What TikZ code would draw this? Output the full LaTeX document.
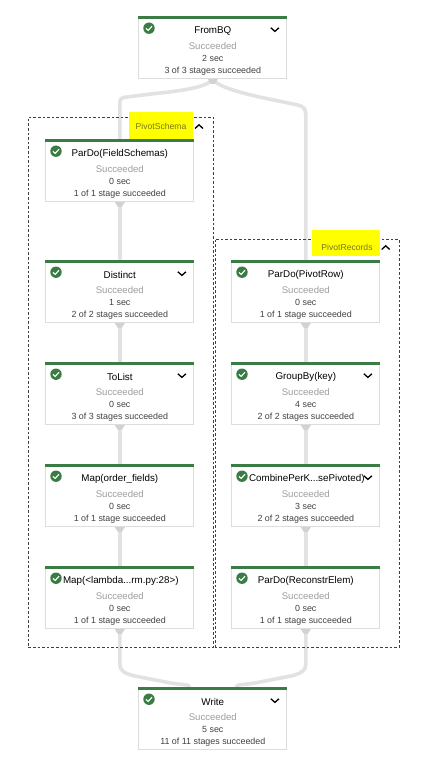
\documentclass[tikz,border=0pt]{standalone}
\usepackage{fontspec}
\setmainfont{Liberation Sans}
\usetikzlibrary{backgrounds,calc}
\definecolor{okgreen}{HTML}{3A7D44}
\definecolor{edgegray}{HTML}{E2E2E2}
\definecolor{portgray}{HTML}{D2D2D2}
\definecolor{boxline}{HTML}{DDDDDD}
\definecolor{mutetext}{HTML}{9E9E9E}
\definecolor{bodytext}{HTML}{424242}
\definecolor{grouptext}{HTML}{77771F}
\definecolor{marker}{HTML}{FFFF00}
\tikzset{
  x=1pt,y=-1pt,
  jobbox/.style={draw=boxline,line width=0.8pt,fill=white,minimum width=148pt,minimum height=62pt,inner sep=0pt,anchor=north west},
  topbar/.style={fill=okgreen,minimum width=148.8pt,minimum height=3.6pt,inner sep=0pt,anchor=north west},
  okdot/.style={circle,fill=okgreen,minimum size=11.4pt,inner sep=0pt},
  titletext/.style={font=\fontsize{9.8}{10}\selectfont,text=black,inner sep=0pt},
  mutedtext/.style={font=\fontsize{9.6}{10}\selectfont,text=mutetext,inner sep=0pt},
  infotext/.style={font=\fontsize{8.9}{10}\selectfont,text=bodytext,inner sep=0pt},
  grouplabel/.style={font=\fontsize{8.6}{10}\selectfont,text=grouptext,inner sep=0pt},
  flow/.style={draw=edgegray,line width=3.6pt},
  groupframe/.style={draw=black!75,line width=0.6pt,dash pattern=on 2.6pt off 2pt},
  chev/.style={draw=black,line width=1.3pt},
  tick/.style={draw=white,line width=1.1pt},
  highlight/.style={fill=marker,inner sep=0pt,anchor=north west}
}
% name, x, y, title, time, stages, title shift
\newcommand{\jobnode}[7]{%
  \node[jobbox] (#1) at (#2,#3) {};
  \node[topbar] (#1bar) at ($(#1.north west)+(-0.4,-0.4)$) {};
  \node[okdot] (#1ok) at ($(#1.north west)+(10.6,12.2)$) {};
  \draw[tick] ($(#1ok)+(-3,0.2)$) -- ($(#1ok)+(-0.8,2.2)$) -- ($(#1ok)+(3,-2)$);
  \node[titletext] (#1title) at ($(#1.north)+(#7,14.8)$) {#4};
  \node[mutedtext] (#1state) at ($(#1.north)+(0,29.8)$) {Succeeded};
  \node[infotext] (#1time) at ($(#1.north)+(0,42.8)$) {#5};
  \node[infotext] (#1stages) at ($(#1.north)+(0,54.8)$) {#6};
}
\newcommand{\chevdown}[1]{\draw[chev] ($(#1.north west)+(132.5,11.8)$) -- ($(#1.north west)+(136.5,15.4)$) -- ($(#1.north west)+(140.5,11.8)$);}
\newcommand{\portmark}[1]{\fill[portgray] ($(#1.south)+(-5,0.4)$) -- ($(#1.south)+(5,0.4)$) -- ($(#1.south)+(2,5)$) -- ($(#1.south)+(-2,5)$) -- cycle;}
\begin{document}
\begin{tikzpicture}
\useasboundingbox (0,0) rectangle (424,770);
\node[groupframe,minimum width=185pt,minimum height=530pt,inner sep=0pt,anchor=north west] (schemagroup) at (28,117) {};
\node[groupframe,minimum width=184pt,minimum height=408.5pt,inner sep=0pt,anchor=north west] (recordsgroup) at (214.5,238.5) {};
\node[highlight,minimum width=64pt,minimum height=28pt] (schemamark) at (129,112) {};
\node[highlight,minimum width=68pt,minimum height=26pt] (recordsmark) at (312,230) {};
\node[grouplabel] (schemalabel) at (161,126.7) {PivotSchema};
\node[grouplabel] (recordslabel) at (347,247.7) {PivotRecords};
\draw[chev] (195,128.5) -- (199,124.8) -- (203,128.5);
\draw[chev] (381.7,249.5) -- (385.7,245.8) -- (389.7,249.5);

\jobnode{frombq}{138.4}{16}{FromBQ}{2 sec}{3 of 3 stages succeeded}{0}
\jobnode{fieldschemas}{45.4}{139}{ParDo(FieldSchemas)}{0 sec}{1 of 1 stage succeeded}{0}
\jobnode{distinct}{45.4}{260}{Distinct}{1 sec}{2 of 2 stages succeeded}{0}
\jobnode{tolist}{45.4}{362}{ToList}{0 sec}{3 of 3 stages succeeded}{0}
\jobnode{orderfields}{45.4}{464}{Map(order\_fields)}{0 sec}{1 of 1 stage succeeded}{0}
\jobnode{lambda}{45.4}{566}{Map(<lambda...rm.py:28>)}{0 sec}{1 of 1 stage succeeded}{1}
\jobnode{pivotrow}{231.4}{260}{ParDo(PivotRow)}{0 sec}{1 of 1 stage succeeded}{0}
\jobnode{groupby}{231.4}{362}{GroupBy(key)}{4 sec}{2 of 2 stages succeeded}{0}
\jobnode{combine}{231.4}{464}{CombinePerK...sePivoted)}{3 sec}{2 of 2 stages succeeded}{1}
\jobnode{reconstr}{231.4}{566}{ParDo(ReconstrElem)}{0 sec}{1 of 1 stage succeeded}{0}
\jobnode{write}{138.4}{687}{Write}{5 sec}{11 of 11 stages succeeded}{0}
\chevdown{frombq}
\chevdown{distinct}
\chevdown{tolist}
\chevdown{groupby}
\chevdown{combine}
\chevdown{write}
\portmark{frombq}
\portmark{fieldschemas}
\portmark{distinct}
\portmark{tolist}
\portmark{orderfields}
\portmark{lambda}
\portmark{pivotrow}
\portmark{groupby}
\portmark{combine}
\portmark{reconstr}

\begin{pgfonlayer}{background}
\draw[flow] (frombq.south) .. controls ($(frombq.south)+(-4,8)$) and ($(frombq.south)+(-30,12)$) .. ($(frombq.south)+(-60,15)$)
  -- ($(frombq.south)+(-84,18)$) .. controls ($(frombq.south)+(-93,19)$) and ($(fieldschemas.north)+(0,-41)$) .. ($(fieldschemas.north)+(0,-32)$) -- (fieldschemas.north);
\draw[flow] (frombq.south) .. controls ($(frombq.south)+(4,8)$) and ($(frombq.south)+(30,15)$) .. ($(frombq.south)+(60,21)$)
  -- ($(frombq.south)+(84,26)$) .. controls ($(frombq.south)+(93,28)$) and ($(pivotrow.north)+(0,-150)$) .. ($(pivotrow.north)+(0,-142)$) -- (pivotrow.north);
\draw[flow] (fieldschemas.south) -- (distinct.north);
\draw[flow] (distinct.south) -- (tolist.north);
\draw[flow] (tolist.south) -- (orderfields.north);
\draw[flow] (orderfields.south) -- (lambda.north);
\draw[flow] (pivotrow.south) -- (groupby.north);
\draw[flow] (groupby.south) -- (combine.north);
\draw[flow] (combine.south) -- (reconstr.north);
\draw[flow] (lambda.south) -- ($(lambda.south)+(0,36)$) .. controls ($(lambda.south)+(0,42)$) and ($(lambda.south)+(6,45)$) .. ($(lambda.south)+(14,47)$)
  -- ($(lambda.south)+(50,54)$) .. controls ($(lambda.south)+(60,56)$) and ($(write.north)+(-23,-3)$) .. ($(write.north)+(-23,0)$);
\draw[flow] (reconstr.south) -- ($(reconstr.south)+(0,36)$) .. controls ($(reconstr.south)+(0,42)$) and ($(reconstr.south)+(-6,45)$) .. ($(reconstr.south)+(-14,47)$)
  -- ($(reconstr.south)+(-50,54)$) .. controls ($(reconstr.south)+(-60,56)$) and ($(write.north)+(23,-3)$) .. ($(write.north)+(23,0)$);
\end{pgfonlayer}
\end{tikzpicture}
\end{document}
